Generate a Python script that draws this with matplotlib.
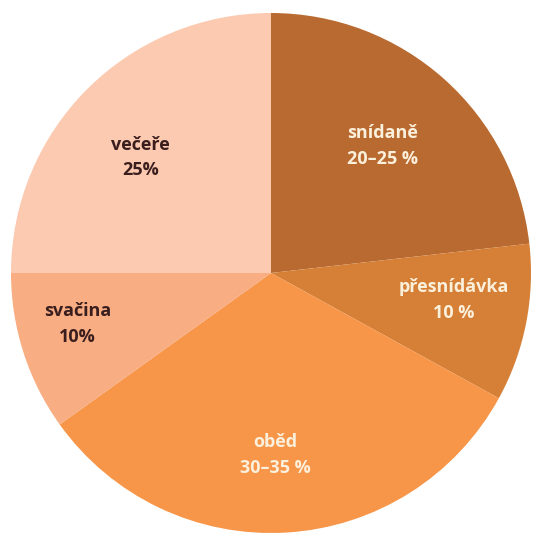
import numpy as np
import matplotlib
matplotlib.use("Agg")
import matplotlib.pyplot as plt

categories = ["snídaně", "přesnídávka", "oběd", "svačina", "večeře"]
values = [23.2, 9.8, 32.1, 9.9, 25.0]
value_labels = ["20–25 %", "10 %", "30–35 %", "10%", "25%"]

colors = ["#b96a30", "#d58036", "#f79548", "#f8ad83", "#fccab0"]
text_colors = ["#fbf0dc", "#fbf0dc", "#fbf0dc", "#3a1e1e", "#3a1e1e"]
label_r = [0.65, 0.71, 0.70, 0.77, 0.67]
label_dang = [0.5, 2.8, -2.2, -3.0, 3.5]

W, H = 535, 533
fig = plt.figure(figsize=(W / 100, H / 100), dpi=100)
ax = fig.add_axes([0, 0, 1, 1])
cx, cy, R = 271, 273, 260

wedges, _ = ax.pie(values, colors=colors, startangle=90, counterclock=False,
                   radius=1, center=(0, 0), wedgeprops=dict(linewidth=0))
ax.set_aspect("auto")
ax.set_xlim(-cx / R, (W - cx) / R)
ax.set_ylim(-(H - cy) / R, cy / R)
ax.axis("off")

for w, cat, vl, tc, r, da in zip(wedges, categories, value_labels, text_colors, label_r, label_dang):
    ang = np.deg2rad((w.theta1 + w.theta2) / 2 + da)
    x, y = r * np.cos(ang), r * np.sin(ang)
    ax.text(x, y, f"{cat}\n{vl}", ha="center", va="center", color=tc,
            fontsize=13, fontweight="bold", family=["Open Sans", "DejaVu Sans"],
            linespacing=1.55)

fig.savefig("out.png", dpi=100, facecolor="white")
